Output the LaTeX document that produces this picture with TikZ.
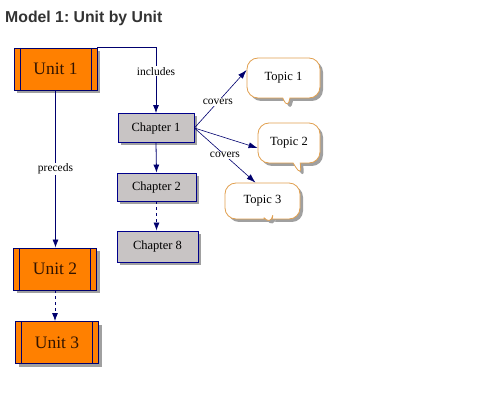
\documentclass[tikz,border=0pt]{standalone}
\usepackage{fontspec}
\setmainfont{Liberation Serif}
\newfontfamily\titlefont{Liberation Sans}
\usetikzlibrary{shapes.callouts,shadows,arrows.meta}
\definecolor{unitorange}{RGB}{255,128,0}
\definecolor{navyline}{RGB}{0,0,110}
\definecolor{chapgrey}{RGB}{200,196,196}
\definecolor{bubbleedge}{RGB}{225,160,80}
\definecolor{shadowgrey}{RGB}{160,160,160}
\definecolor{unittext}{RGB}{50,20,0}
\frenchspacing
\begin{document}
\begin{tikzpicture}[x=1pt,y=1pt,
  unitbox/.style={draw=navyline, line width=0.8pt, fill=unitorange, minimum width=83pt, minimum height=42pt,
    font=\fontsize{17.5}{19}\selectfont, text=unittext, inner sep=0pt,
    drop shadow={shadow xshift=3pt, shadow yshift=-3pt, fill=shadowgrey, opacity=1},
    path picture={\draw[navyline, line width=0.8pt]
      ([xshift=6pt]path picture bounding box.north west) -- ([xshift=6pt]path picture bounding box.south west)
      ([xshift=-6pt]path picture bounding box.north east) -- ([xshift=-6pt]path picture bounding box.south east);}},
  chapbox/.style={draw=navyline!80!blue, line width=0.8pt, fill=chapgrey, minimum width=78pt, minimum height=29pt,
    font=\fontsize{12.5}{14}\selectfont, inner sep=0pt,
    drop shadow={shadow xshift=3pt, shadow yshift=-3pt, fill=shadowgrey, opacity=1}},
  bubble/.style={rectangle callout, rounded corners=11pt, draw=bubbleedge, line width=0.8pt, fill=white,
    font=\fontsize{12.5}{14}\selectfont, inner sep=0pt,
    drop shadow={shadow xshift=3pt, shadow yshift=-3pt, fill=shadowgrey, opacity=1}},
  lbl/.style={fill=white, inner sep=1pt, font=\fontsize{11.5}{13}\selectfont},
  conn/.style={draw=navyline, line width=0.8pt, -{Latex[length=8pt,width=6pt]}},
  thin/.style={draw=navyline, line width=0.6pt, -{Latex[length=9pt,width=6pt]}}
]
\useasboundingbox (0,0) rectangle (491,-412);
\node[anchor=base west, font=\titlefont\bfseries\fontsize{15.8}{18}\selectfont, text=black!80, inner sep=0pt] (title) at (5,-23) {Model 1: Unit by Unit};

\node[unitbox] (u1) at (55.5,-69) {Unit 1};
\node[unitbox] (u2) at (55,-269) {Unit 2};
\node[unitbox] (u3) at (57,-342.5) {Unit 3};

\node[chapbox, minimum width=76pt] (c1) at (156,-128) {Chapter 1};
\node[chapbox, minimum width=79pt, minimum height=28pt] (c2) at (156.5,-187) {Chapter 2};
\node[chapbox, minimum width=81pt, minimum height=31pt] (c8) at (157.5,-246.5) {Chapter 8};

\node[bubble, minimum width=73pt, minimum height=40pt, callout absolute pointer={(288,-110)}] (t1) at (283.5,-78) {Topic 1};
\node[bubble, minimum width=62pt, minimum height=40pt, callout absolute pointer={(302,-177)}] (t2) at (289,-143) {Topic 2};
\node[bubble, minimum width=75pt, minimum height=36pt, callout absolute pointer={(271,-226)}] (t3) at (262.5,-201) {Topic 3};

% includes
\draw[conn] (u1.north east) -| (c1.north) node[lbl, pos=0.68] {includes};
% preceds
\draw[conn] (u1.south) -- (u1.south |- u2.north) node[lbl, midway] {preceds};
\draw[conn, dashed] (u2.south) -- (u2.south |- u3.north);
% chapters
\draw[conn] (c1.south) -- (c2.north);
\draw[conn, dashed] (c2.south) -- (c2.south |- c8.north);
% covers
\draw[thin] (c1.east) -- ([yshift=8pt]t1.west) node[lbl, pos=0.45] {covers};
\draw[thin] (c1.east) -- ([yshift=-5pt]t2.west);
\draw[thin] (c1.east) -- ([xshift=-7pt]t3.north) node[lbl, pos=0.5] {covers};
\end{tikzpicture}
\end{document}
